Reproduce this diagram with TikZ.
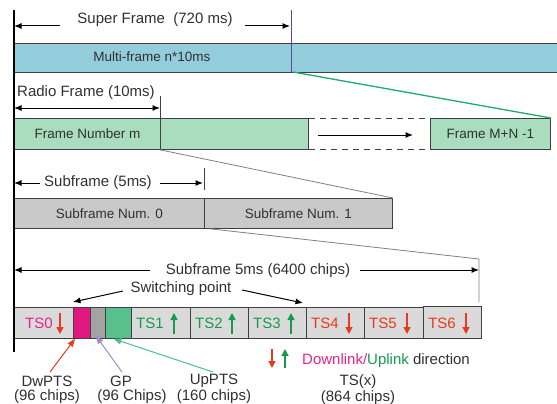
\documentclass[tikz,border=0pt]{standalone}
\usepackage{fontspec}
\setmainfont{Liberation Sans}
\usetikzlibrary{arrows.meta}
\definecolor{mfblue}{HTML}{93CDDB}
\definecolor{frgreen}{HTML}{AADDBE}
\definecolor{sfgray}{HTML}{C9C9C9}
\definecolor{tsgray}{HTML}{DADADA}
\definecolor{dwmag}{HTML}{E0187F}
\definecolor{gpgray}{HTML}{A3A3A3}
\definecolor{upgreen}{HTML}{58C08C}
\definecolor{dnred}{HTML}{E83A1E}
\definecolor{ulgreen}{HTML}{169A4E}
\definecolor{txtmag}{HTML}{E2248C}
\definecolor{txtgray}{HTML}{303030}
\definecolor{boxline}{HTML}{404040}
\definecolor{divpurple}{HTML}{5A4A9A}
\definecolor{zoomgreen}{HTML}{1AAE6A}
\definecolor{gplav}{HTML}{9A90D0}
\definecolor{uplight}{HTML}{50C090}
\newcommand\lblfont{\fontsize{15}{17}\selectfont}
\newcommand\boxfont{\fontsize{13.5}{15}\selectfont}
\begin{document}
\begin{tikzpicture}[x=1pt,y=-1pt,
  box/.style={draw=boxline, line width=0.8pt, inner sep=0pt, anchor=north west, font=\boxfont, text=txtgray},
  lbl/.style={font=\lblfont, inner sep=1pt, text=txtgray},
  arr/.style={-{Latex[length=7.5pt,width=6pt]}, line width=1pt, draw=black},
  dnarr/.style={-{Triangle[length=7pt,width=7pt]}, line width=1.4pt, draw=dnred},
  uparr/.style={-{Triangle[length=7pt,width=7pt]}, line width=1.4pt, draw=ulgreen},
  tsd/.style={font=\lblfont, text=dnred, inner sep=0pt},
  tsu/.style={font=\lblfont, text=ulgreen, inner sep=0pt}]
\useasboundingbox (0,0) rectangle (557,404);

% left axis
\coordinate (axT) at (14,10);
\coordinate (axB) at (14,352);

% ---------- Super frame ----------
\node[box, fill=mfblue, minimum width=545pt, minimum height=29pt] (mf) at (14,43) {};
\node[font=\boxfont, text=txtgray, inner sep=0pt] (mft) at (152,57) {Multi-frame n*10ms};
\coordinate (divT) at (291,10);
\coordinate (divB) at (291,72);
\draw[divpurple, line width=0.8pt] (divT) -- (divB);
\node[lbl] (sft) at (155,20) {Super Frame\ \ (720 ms)};
\coordinate (sfa1) at (60,26);
\coordinate (sfa1e) at (14,26);
\coordinate (sfa2) at (245,26);
\coordinate (sfa2e) at (290,26);
\draw[arr] (sfa1) -- (sfa1e);
\draw[arr] (sfa2) -- (sfa2e);

% ---------- Radio frame ----------
\node[lbl, anchor=west] (rft) at (16,93) {Radio Frame (10ms)};
\coordinate (rfaS) at (14,108);
\coordinate (rfaE) at (160,108);
\draw[arr, {Latex[length=7.5pt,width=6pt]}-{Latex[length=7.5pt,width=6pt]}] (rfaS) -- (rfaE);
\coordinate (rftT) at (160,96);
\node[box, fill=frgreen, minimum width=146pt, minimum height=31pt] (fm) at (14,118) {Frame Number m};
\node[box, fill=frgreen, minimum width=148pt, minimum height=31pt] (f2) at (160,118) {};
\node[box, fill=frgreen, minimum width=120pt, minimum height=31pt] (fl) at (430,118) {Frame M+N -1};
\draw[boxline, line width=0.8pt] (rftT) -- (f2.north west);
\draw[boxline, dash pattern=on 6pt off 5pt, line width=0.8pt] (f2.north east) -- (fl.north west);
\draw[boxline, dash pattern=on 6pt off 5pt, line width=0.8pt] (f2.south east) -- (fl.south west);
\coordinate (dA) at (318,135);
\coordinate (dB) at (413,135);
\draw[arr] (dA) -- (dB);
\draw[zoomgreen, line width=1.3pt] ([xshift=2pt]divB) -- (fl.north east);

% ---------- Subframe ----------
\node[lbl] (sbt) at (98,183) {Subframe (5ms)};
\coordinate (sbaS) at (14,183);
\coordinate (sba1) at (40,183);
\coordinate (sba2) at (160,183);
\coordinate (sbaE) at (203,183);
\draw[arr] (sba1) -- (sbaS);
\draw[arr] (sba2) -- (sbaE);
\coordinate (sbtT) at (204,168);
\coordinate (sbtB) at (204,190);
\draw[boxline, line width=0.8pt] (sbtT) -- (sbtB);
\node[box, fill=sfgray, minimum width=190pt, minimum height=30pt] (s0) at (14,198) {Subframe Num. 0};
\node[box, fill=sfgray, minimum width=188pt, minimum height=30pt] (s1) at (204,198) {Subframe Num. 1};
\draw[gray, line width=0.8pt] (f2.south west) -- (s1.north east);

% ---------- TS row ----------
\node[lbl] (s5t) at (258,271) {Subframe 5ms (6400 chips)};
\coordinate (s5S) at (14,270);
\coordinate (s5a1) at (150,270);
\coordinate (s5a2) at (360,270);
\coordinate (s5E) at (479,270);
\coordinate (s5top) at (479,259);
\coordinate (s5bot) at (479,302);
\draw[arr] (s5a1) -- (s5S);
\draw[arr] (s5a2) -- (s5E);
\draw[gray, line width=0.8pt] ([xshift=6pt]s1.south west) -- (s5top) -- (s5bot);

\node[lbl] (swt) at (181,289) {Switching point};
\coordinate (sw1) at (123,291);
\coordinate (sw1e) at (73,302);
\coordinate (sw2) at (242,290);
\coordinate (sw2e) at (303,303);
\draw[arr] (sw1) -- (sw1e);
\draw[arr] (sw2) -- (sw2e);

\node[box, fill=tsgray, minimum width=59pt, minimum height=31pt] (ts0) at (14,307) {};
\node[box, fill=dwmag, minimum width=17pt, minimum height=31pt] (dw) at (73,307) {};
\node[box, fill=gpgray, minimum width=15pt, minimum height=31pt] (gp) at (90,307) {};
\node[box, fill=upgreen, minimum width=26pt, minimum height=31pt] (up) at (105,307) {};
\node[box, fill=tsgray, minimum width=59pt, minimum height=31pt] (ts1) at (131,307) {};
\node[box, fill=tsgray, minimum width=58pt, minimum height=31pt] (ts2) at (190,307) {};
\node[box, fill=tsgray, minimum width=58pt, minimum height=31pt] (ts3) at (248,307) {};
\node[box, fill=tsgray, minimum width=58pt, minimum height=31pt] (ts4) at (306,307) {};
\node[box, fill=tsgray, line width=1.2pt, minimum width=59pt, minimum height=31pt] (ts5) at (364,307) {};
\node[box, fill=tsgray, line width=1.2pt, minimum width=58pt, minimum height=32pt] (ts6) at (423,306) {};

\draw[black, line width=2pt] (axT) -- (axB);

\node[tsd, text=txtmag] (l0) at (39,323) {TS0};
\node[tsu] (l1) at (150,323) {TS1};
\node[tsu] (l2) at (209,323) {TS2};
\node[tsu] (l3) at (267,323) {TS3};
\node[tsd] (l4) at (325,323) {TS4};
\node[tsd] (l5) at (383,323) {TS5};
\node[tsd] (l6) at (442,323) {TS6};
\foreach \x/\n in {60/a0,349/a4,407/a5,466/a6}{
  \coordinate (\n t) at (\x,313);
  \coordinate (\n b) at (\x,334);
  \draw[dnarr] (\n t) -- (\n b);
}
\foreach \x/\n in {174/a1,232/a2,291/a3}{
  \coordinate (\n t) at (\x,313);
  \coordinate (\n b) at (\x,334);
  \draw[uparr] (\n b) -- (\n t);
}

% ---------- legend ----------
\coordinate (lgdT) at (272,349);
\coordinate (lgdB) at (272,368);
\coordinate (lguT) at (285,349);
\coordinate (lguB) at (285,368);
\draw[dnarr] (lgdT) -- (lgdB);
\draw[uparr] (lguB) -- (lguT);
\node[lbl, anchor=west, inner sep=0pt] (lgt) at (302,361) {\textcolor{txtmag}{Downlink/}\textcolor{ulgreen}{Uplink} direction};
\node[lbl] (tsx) at (358,382) {TS(x)};
\node[lbl] (tsc) at (358,398) {(864 chips)};

% ---------- bottom labels ----------
\node[lbl] (dwt) at (47,381) {DwPTS};
\node[lbl] (dwc) at (47,397) {(96 chips)};
\node[lbl] (gpt) at (121,381) {GP};
\node[lbl] (gpc) at (132,397) {(96 Chips)};
\node[lbl] (upt) at (214,381) {UpPTS};
\node[lbl] (upc) at (214,397) {(160 chips)};
\coordinate (pd) at (50,372);
\coordinate (pg) at (122,372);
\coordinate (pu) at (213,372);
\draw[-{Triangle[length=8pt,width=6pt]}, dnred, line width=1pt] (pd) -- ([xshift=2pt]dw.south west);
\draw[-{Triangle[length=8pt,width=6pt]}, gplav, line width=1pt] (pg) -- ([xshift=-2pt,yshift=3pt]gp.south);
\draw[-{Triangle[length=8pt,width=6pt]}, uplight, line width=1pt] (pu) -- ([xshift=-5pt]up.south);
\end{tikzpicture}
\end{document}
